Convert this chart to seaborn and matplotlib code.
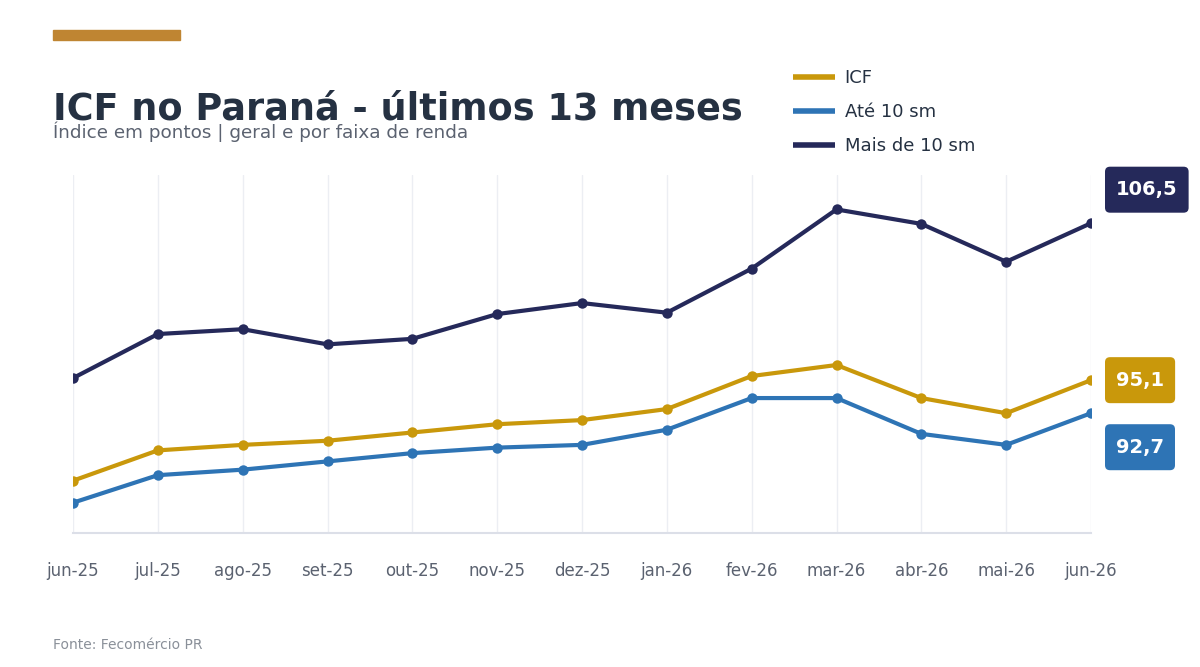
import matplotlib
matplotlib.use("Agg")
import matplotlib.pyplot as plt
import seaborn as sns
import pandas as pd
from matplotlib.lines import Line2D
from matplotlib.patches import FancyBboxPatch
from matplotlib.transforms import IdentityTransform

meses = ["jun-25", "jul-25", "ago-25", "set-25", "out-25", "nov-25", "dez-25",
         "jan-26", "fev-26", "mar-26", "abr-26", "mai-26", "jun-26"]
icf = [87.8, 90.0, 90.4, 90.7, 91.3, 91.9, 92.2, 93.0, 95.4, 96.2, 93.8, 92.7, 95.1]
ate10 = [86.2, 88.2, 88.6, 89.2, 89.8, 90.2, 90.4, 91.5, 93.8, 93.8, 91.2, 90.4, 92.7]
mais10 = [95.25, 98.45, 98.8, 97.7, 98.1, 99.9, 100.7, 100.0, 103.2, 107.5, 106.45, 103.7, 106.5]

series = ["ICF", "Até 10 sm", "Mais de 10 sm"]
cores = {"ICF": "#C9980B", "Até 10 sm": "#2E74B5", "Mais de 10 sm": "#25295A"}

rows = []
for nome, vals in zip(series, [icf, ate10, mais10]):
    for i, v in enumerate(vals):
        rows.append({"idx": i, "mes": meses[i], "valor": v, "serie": nome})
df = pd.DataFrame(rows)

sns.set_theme(style="white")
plt.rcParams["font.family"] = ["DejaVu Sans"]

W, H = 1200, 667
fig = plt.figure(figsize=(12, 6.67), dpi=100)
ax = fig.add_axes([73 / W, 1 - 533 / H, 1018 / W, 358 / H])

for nome in ["ICF", "Até 10 sm", "Mais de 10 sm"]:
    sns.lineplot(data=df[df.serie == nome], x="idx", y="valor", color=cores[nome],
                 marker="o", markersize=7.5, markeredgewidth=0, linewidth=3.0,
                 ax=ax, legend=False, zorder=3)

ax.set_xlim(0, 12)
ax.set_ylim(84, 110)
ax.set_xticks(range(len(meses)))
ax.set_xticklabels(meses, fontsize=12, color="#5B6270")
ax.tick_params(axis="x", length=0, pad=21)
ax.set_yticks([])
ax.set_xlabel("")
ax.set_ylabel("")
for s in ["top", "right", "left"]:
    ax.spines[s].set_visible(False)
ax.spines["bottom"].set_color("#DCDFE8")
ax.spines["bottom"].set_linewidth(1.5)
ax.grid(axis="x", color="#ECEEF3", linewidth=1)
ax.set_axisbelow(True)

# end labels (rounded boxes in pixel space, width fitted to text)
fig.canvas.draw()
renderer = fig.canvas.get_renderer()
ultimos = [("Mais de 10 sm", mais10[-1], 33.5), ("ICF", icf[-1], 0), ("Até 10 sm", ate10[-1], -34)]
bh = 46
left = 1105
padx = 11
for nome, v, dy in ultimos:
    px, py = ax.transData.transform((12, v))
    cy = py + dy
    t = fig.text(0, cy / H, f"{v:.1f}".replace(".", ","), ha="center", va="center",
                 fontsize=14, fontweight="bold", color="white", zorder=7)
    tw = t.get_window_extent(renderer).width
    bw = tw + 2 * padx
    t.set_x((left + bw / 2) / W)
    r = 5
    box = FancyBboxPatch((left + r, cy - bh / 2 + r), bw - 2 * r, bh - 2 * r,
                         boxstyle=f"round,pad={r},rounding_size={r}", fc=cores[nome], ec="none",
                         transform=IdentityTransform(), zorder=6)
    fig.patches.append(box)

# gold bar
fig.patches.append(plt.Rectangle((53 / W, 1 - 40 / H), 127 / W, 10 / H,
                                 transform=fig.transFigure, color="#BF8532", zorder=5))

fig.text(53 / W, 1 - 120 / H, "ICF no Paraná - últimos 13 meses", fontsize=26.4,
         fontweight="bold", color="#253142", ha="left", va="baseline")
fig.text(53 / W, 1 - 132 / H, "Índice em pontos | geral e por faixa de renda", fontsize=13.2,
         color="#5B6270", ha="left", va="center")
fig.text(53 / W, 1 - 645 / H, "Fonte: Fecomércio PR", fontsize=10,
         color="#8A9099", ha="left", va="center")

handles = [Line2D([0], [0], color=cores[n], linewidth=4, solid_capstyle="butt") for n in series]
fig.legend(handles, series, loc="upper left", bbox_to_anchor=(777 / W, 1 - 53 / H),
           frameon=False, fontsize=13, handlelength=2.3, handletextpad=0.55,
           labelspacing=0.89, labelcolor="#253142")

fig.savefig("out.png", dpi=100, facecolor="white")
